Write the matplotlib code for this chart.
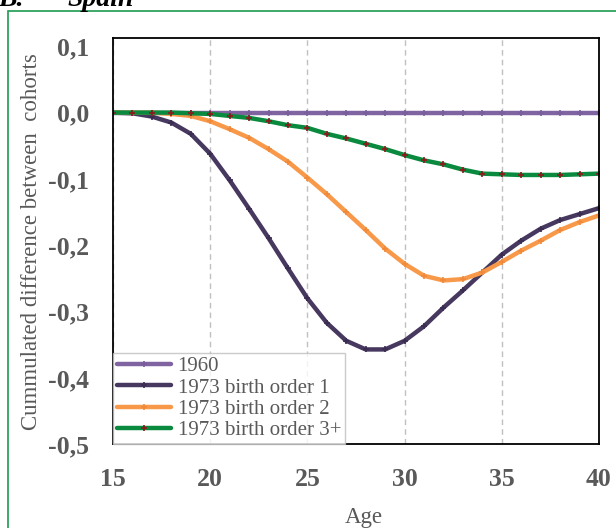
import matplotlib
matplotlib.use('Agg')
import matplotlib.pyplot as plt
from matplotlib.patches import Rectangle

plt.rcParams['font.family'] = ['Liberation Serif', 'DejaVu Serif']

# cumulated differences by age, Spain
ages = list(range(15, 41))
cohort_1960 = [0.0] * 26
order_1 = [0.0, -0.001, -0.006, -0.015, -0.032, -0.062, -0.102, -0.145, -0.189, -0.235,
           -0.280, -0.317, -0.344, -0.357, -0.357, -0.344, -0.322, -0.294, -0.268, -0.241,
           -0.214, -0.193, -0.175, -0.162, -0.153, -0.144]
order_2 = [0.0, 0.0, 0.0, -0.002, -0.005, -0.013, -0.025, -0.038, -0.055, -0.074,
           -0.098, -0.123, -0.150, -0.177, -0.205, -0.228, -0.246, -0.253, -0.251, -0.241,
           -0.225, -0.208, -0.193, -0.177, -0.165, -0.155]
order_3 = [0.0, 0.0, 0.0, 0.0, -0.001, -0.002, -0.005, -0.008, -0.013, -0.019,
           -0.023, -0.032, -0.039, -0.047, -0.055, -0.064, -0.072, -0.078, -0.086, -0.092,
           -0.093, -0.094, -0.094, -0.094, -0.093, -0.092]

labels = ['1960', '1973 birth order 1', '1973 birth order 2', '1973 birth order 3+']
colors = ['#8064A2', '#46385E', '#F8994A', '#0A8A3E']
marker_colors = ['#7A5E9C', '#3A2D50', '#F08A3A', '#8B1A1A']
yticks = [0.1, 0.0, -0.1, -0.2, -0.3, -0.4, -0.5]
xticks = [15, 20, 25, 30, 35, 40]

fig = plt.figure(figsize=(6.16, 5.28), dpi=100)
ax = fig.add_axes([113 / 616, 1 - 444.3 / 528, 486 / 616, 406 / 528])

for ys, lab, c, mc in zip([cohort_1960, order_1, order_2, order_3], labels, colors, marker_colors):
    ax.plot(ages, ys, color=c, lw=3.2, marker='+', ms=4, mew=1.2,
            markeredgecolor=mc, label=lab, solid_capstyle='round')

ax.set_xlim(15, 40)
ax.set_ylim(-0.5, 0.112)
ax.set_xticks(xticks)
ax.set_yticks(yticks)
ax.set_yticklabels([('%.1f' % v).replace('.', ',') for v in yticks])
ax.tick_params(length=0, labelsize=18.5, labelcolor='#595959', pad=17)
for t in ax.get_xticklabels() + ax.get_yticklabels():
    t.set_fontweight('bold')
ax.xaxis.grid(True, color='#C0C0C0', ls=(0, (4, 3)), lw=1)
for s in ax.spines.values():
    s.set_color('black')
    s.set_linewidth(1.3)

ax.set_xlabel('Age', fontsize=16.5, color='#595959')
ax.xaxis.set_label_coords(0.515, -0.155)
ax.set_ylabel('Cummulated difference between  cohorts', fontsize=16.5, color='#595959')
ax.yaxis.set_label_coords(-0.146, 0.5)

leg = ax.legend(loc='lower left', fontsize=15, frameon=True, fancybox=False,
                borderaxespad=0, handlelength=2.6, handletextpad=0.3,
                labelspacing=0.08, borderpad=0.2)
leg.get_frame().set_edgecolor('#BFBFBF')
leg.get_frame().set_linewidth(1)
for t in leg.get_texts():
    t.set_color('#595959')

# green frame around the panel, partly outside the canvas
fig.patches.append(Rectangle((8 / 616, -0.1), 1.2, 1 - 10.5 / 528 + 0.1,
                             transform=fig.transFigure, fill=False,
                             edgecolor='#1E9A50', lw=1.2))

fig.text(-2 / 616, 1 - 6 / 528, 'B.', fontsize=20, fontweight='bold', style='italic',
         va='baseline', ha='left')
fig.text(68 / 616, 1 - 6 / 528, 'Spain', fontsize=20, fontweight='bold', style='italic',
         va='baseline', ha='left')

fig.savefig('out.png', dpi=100)
